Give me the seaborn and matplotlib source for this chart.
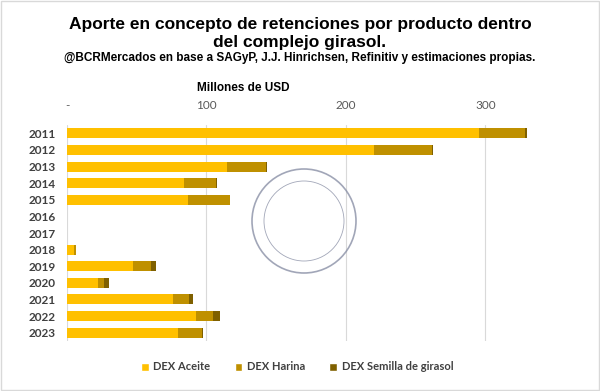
import matplotlib
matplotlib.use("Agg")
import matplotlib.pyplot as plt
import seaborn as sns
import pandas as pd
from matplotlib.patches import Patch, Ellipse

years = ["2011", "2012", "2013", "2014", "2015", "2016", "2017",
         "2018", "2019", "2020", "2021", "2022", "2023"]
aceite = [295.3, 220.4, 114.6, 83.8, 86.9, 0, 0, 5.0, 47.1, 22.3, 75.9, 92.4, 79.9]
harina = [33.5, 41.4, 28.3, 23.2, 29.9, 0, 0, 1.2, 13.2, 4.3, 11.5, 12.4, 16.8]
semilla = [1.0, 0.5, 0.5, 0.5, 0.3, 0, 0, 0.2, 3.3, 3.3, 2.8, 5.2, 0.7]

series = ["DEX Aceite", "DEX Harina", "DEX Semilla de girasol"]
colors = ["#FFC000", "#BF9000", "#7F6000"]

df = pd.DataFrame({"year": years, "DEX Aceite": aceite,
                   "DEX Harina": harina, "DEX Semilla de girasol": semilla})
# cumulative totals for stacking
df["c1"] = df["DEX Aceite"]
df["c2"] = df["c1"] + df["DEX Harina"]
df["c3"] = df["c2"] + df["DEX Semilla de girasol"]

sns.set_theme(style="white")
plt.rcParams["font.family"] = ["Liberation Sans Narrow", "Liberation Sans", "DejaVu Sans"]

fig = plt.figure(figsize=(6, 3.91), dpi=100)
ax = fig.add_axes([67 / 600, 1 - 341 / 391, (555 - 67) / 600, (341 - 125) / 391])

for col, c in zip(["c3", "c2", "c1"], colors[::-1]):
    sns.barplot(data=df, y="year", x=col, color=c, orient="h", order=years,
                width=0.6, ax=ax, saturation=1, linewidth=0)

ax.set_xlim(0, 350)
ax.xaxis.tick_top()
ax.set_xticks([0, 100, 200, 300])
ax.set_xticklabels(["-", "100", "200", "300"])
ax.tick_params(axis="x", length=0, pad=10, labelsize=8.5, labelcolor="#595959")
ax.tick_params(axis="y", length=0, pad=8, labelsize=8.5, labelcolor="#404040")
for lab in ax.get_yticklabels():
    lab.set_fontweight("bold")
    lab.set_family(["Lato", "DejaVu Sans"])
for lab in ax.get_xticklabels():
    lab.set_family(["Lato", "DejaVu Sans"])
ax.set_xlabel("")
ax.set_ylabel("")
ax.grid(axis="x", color="#D9D9D9", linewidth=0.8)
ax.set_axisbelow(True)
for s in ax.spines.values():
    s.set_visible(False)

# faint seal watermark
for r, lw in [(52, 1.2), (40, 0.6)]:
    fig.patches.append(Ellipse((304 / 600, 1 - 221 / 391), 2 * r / 600, 2 * r / 391,
                               transform=fig.transFigure, fill=False,
                               edgecolor="#8A90A6", linewidth=lw, alpha=0.8, zorder=5))

fig.text(0.5, 1 - 24 / 391, "Aporte en concepto de retenciones por producto dentro",
         ha="center", va="center", fontsize=12.5, fontweight="bold", color="black")
fig.text(0.5, 1 - 42 / 391, "del complejo girasol.",
         ha="center", va="center", fontsize=12.5, fontweight="bold", color="black")
fig.text(0.5, 1 - 58 / 391,
         "@BCRMercados en base a SAGyP, J.J. Hinrichsen, Refinitiv y estimaciones propias.",
         ha="center", va="center", fontsize=8.5, fontweight="bold", color="black")
fig.text(243 / 600, 1 - 88 / 391, "Millones de USD", ha="center", va="center",
         fontsize=8.5, fontweight="bold", color="black")

handles = [Patch(facecolor=c, label=s) for s, c in zip(series, colors)]
fig.legend(handles=handles, loc="center", bbox_to_anchor=(0.495, 1 - 367 / 391),
           ncol=3, frameon=False, handlelength=0.7, handleheight=0.7,
           columnspacing=2.2, handletextpad=0.4,
           prop={"family": ["Lato", "DejaVu Sans"], "weight": "bold", "size": 8})
for t in fig.legends[0].get_texts():
    t.set_color("#404040")

fig.patches.append(plt.Rectangle((0.002, 0.002), 0.996, 0.996, transform=fig.transFigure,
                                 fill=False, edgecolor="#D9D9D9", linewidth=1))

fig.savefig("out.png", dpi=100)
